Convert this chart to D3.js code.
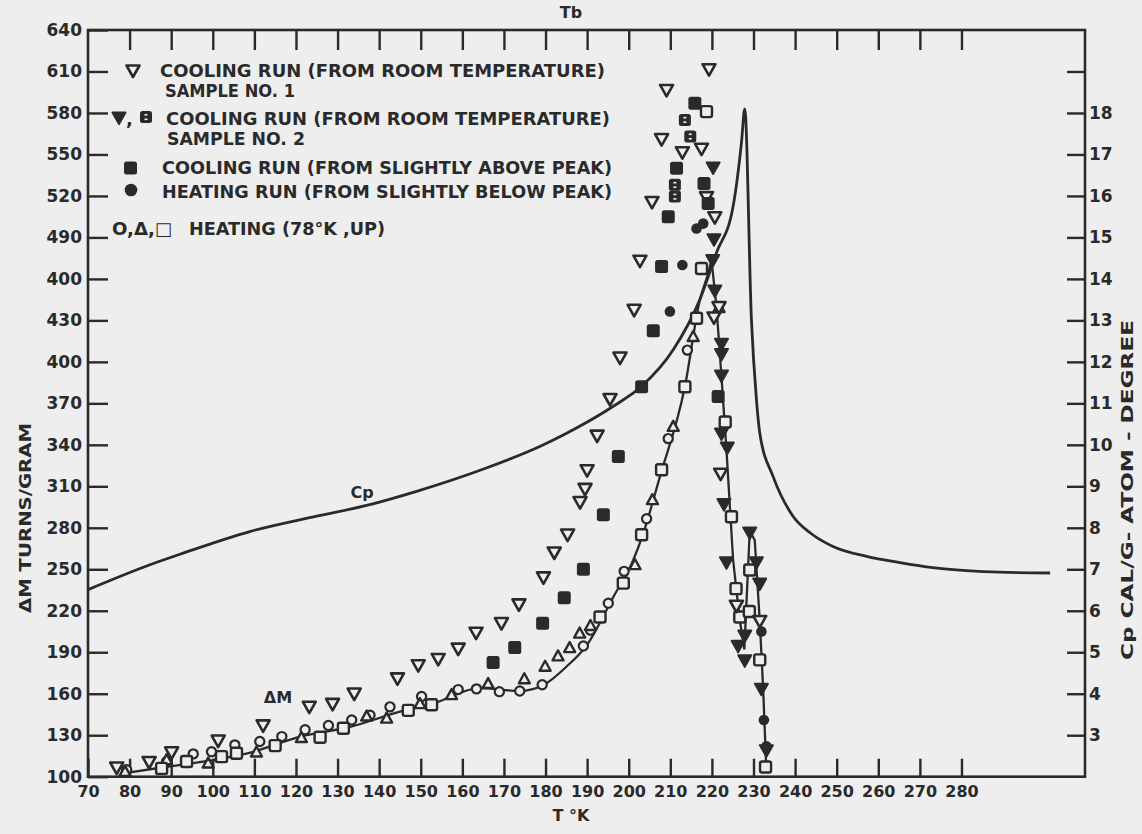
<!DOCTYPE html>
<html><head><meta charset="utf-8">
<script src="https://cdn.jsdelivr.net/npm/d3@7"></script>
<style>
body{margin:0;background:#eeeeee;}
svg{display:block;}
text{font-family:"DejaVu Sans",sans-serif;font-weight:bold;fill:#2a2a2a;}
</style>
</head><body>
<svg id="chart" width="1142" height="834"></svg>
<script>
// ---------- DATA ----------
const xTicks = [70,80,90,100,110,120,130,140,150,160,170,180,190,200,210,220,230,240,250,260,270,280];
const xTickLabels = ["70","80","90","100","110","120","130","140","150","160","170","180","190","200","210","220","230","240","250","260","270","280"];
const topTicks = [80,90,100,110,120,130,140,150,160,170,180,190,200,210,220,230,240,250,260,270,280];
const leftTicks = [100,130,160,190,220,250,280,310,340,370,400,430,460,490,520,550,580,610,640];
const leftTickLabels = ["100","130","160","190","220","250","280","310","340","370","400","430","400","490","520","550","580","610","640"];
const rightTicks = [3,4,5,6,7,8,9,10,11,12,13,14,15,16,17,18,19];
const rightTickLabels = ["3","4","5","6","7","8","9","10","11","12","13","14","15","16","17","18",""];

// Cp curve [T, Cp]
const cpCurve = [[70,6.51],[84.9,7.11],[92.9,7.39],[108.9,7.91],[125,8.28],[136.2,8.52],[149,8.88],[164.6,9.4],[179,9.98],[184.5,10.25],[196.3,10.93],[203.1,11.41],[210.7,12.29],[217.1,13.5],[221.1,14.63],[225.1,15.75],[227.1,17.28],[227.9,18.1],[229.5,13.02],[230.7,11.1],[231.5,10.29],[234.7,9.24],[239.5,8.28],[243.6,7.88],[249.1,7.55],[257.2,7.31],[265.2,7.16],[273.1,7.04],[281.2,6.97],[289.2,6.93],[301.3,6.91]];

// Delta M heating line [T, turns/gram]
const heatLineUp = [[79.3,102.7],[88.9,107.2],[100,112],[109.7,118],[121,129],[133,136],[145,147],[153,153],[164.2,164],[173.8,162],[179.5,166.3],[185,179.5],[189.9,195],[196.3,230],[201.1,256.7],[203.5,276],[207.5,317],[213.5,382],[217.1,444.8],[219.1,464],[219.9,473.7]];
const heatLineDown = [[219.9,473.7],[221.1,439.9],[222.3,389.3],[223.5,336.3],[225.1,256.7],[226.7,213.3],[227.8,192],[229.1,278],[230.3,271],[231.5,213],[232.3,165],[233.1,104]];

// symbols [T, turns/gram]
const coolSample1 = [[76.9,107],[84.7,111],[90.1,118],[101.3,126.5],[112.1,137.5],[123.2,151],[128.8,153],[134,160.5],[144.4,171.5],[149.4,181],[154.2,185.5],[159,193],[163.3,204.5],[169.4,211.5],[173.6,225],[179.5,244.5],[182.1,262.5],[185.3,275.5],[188.3,299],[189.5,308.5],[190,322],[192.4,347],[195.5,373.5],[197.9,403.5],[201.3,438],[202.7,473.5],[205.6,516],[207.9,561.5],[209.1,597],[219.3,612],[212.9,552],[217.5,554.5],[218.7,519.5],[220.7,505],[221.7,440],[220.5,432.5],[222.1,319.5],[225.9,224],[231.5,213]];
const coolSample2Tri = [[220.3,541],[220.5,489],[220.2,474],[220.7,452],[222.3,413.5],[222.3,406],[222.3,390.5],[222.3,348.5],[223.7,338.5],[222.9,297.5],[229.1,277],[223.5,255.5],[230.7,255.5],[231.5,240],[227.9,202.5],[226.3,195],[227.9,184.5],[231.9,164],[233.1,119.5]];
const coolSample2Sq = [[211.1,528],[211.1,519.5],[213.5,575],[214.8,563]];
const coolAbovePeak = [[167.4,182.5],[172.6,193.5],[179.3,211],[184.5,229.5],[189.1,250],[193.9,289.5],[197.5,331.5],[203.1,382],[205.9,422.5],[207.9,469],[209.5,505],[211.5,540],[215.9,587],[218.1,529],[219.1,514.5],[221.5,375]];
const heatBelowPeak = [[209.9,436.5],[212.9,470],[216.3,496.5],[217.9,500],[231.9,205],[232.5,141],[233.1,122]];
const heatCircles = [[79.3,105],[88.9,111],[95.3,116.5],[99.7,118],[105.3,123],[111.3,125.5],[116.6,129],[122.2,134],[127.8,137],[133.4,141],[137.8,144.5],[142.6,150.5],[150.2,158],[159,163],[163.4,163.5],[168.9,161.5],[173.8,162],[179.2,166.5],[189.1,194.5],[190.8,206],[195.1,225.5],[198.9,248.5],[204.3,286.5],[209.5,344.5],[214.1,408.5]];
const heatTriangles = [[78.9,103.5],[88.9,112],[98.9,109.5],[110.5,117.5],[121.3,128],[137,143.5],[141.8,142],[149.8,152.5],[157.4,159],[166.2,167],[174.9,170.5],[179.9,179.5],[183,187],[185.8,193],[188.2,203.5],[190.8,209],[201.5,253],[205.7,300],[210.7,353],[215.5,418],[221.7,439]];
const heatSquares = [[87.7,106],[93.7,111],[102.1,114.5],[105.7,117],[115,122.5],[125.8,128.5],[131.4,135],[147,148],[152.6,152],[193.1,215.5],[198.7,240],[203.1,275],[207.9,322],[213.5,382],[216.3,431.5],[217.5,467.5],[218.7,581],[223.2,356.5],[224.7,288],[225.8,236],[226.7,215.5],[229.1,249.5],[229,219.5],[231.5,184.5],[232.9,107]];

const legendLines = ["COOLING RUN (FROM ROOM TEMPERATURE)","SAMPLE NO. 1","COOLING RUN (FROM ROOM TEMPERATURE)","SAMPLE NO. 2","COOLING RUN (FROM SLIGHTLY ABOVE PEAK)","HEATING RUN (FROM SLIGHTLY BELOW PEAK)","HEATING (78°K ,UP)"];

// ---------- DRAW ----------
const INK = "#2a2a2a", BG = "#eeeeee";
const svg = d3.select("#chart");
svg.append("rect").attr("width",1142).attr("height",834).attr("fill",BG);

const x = d3.scaleLinear().domain([70, 309.7]).range([88, 1085]);
const yL = d3.scaleLinear().domain([100, 640]).range([776.7, 30]);
const yR = d3.scaleLinear().domain([2, 20]).range([776.7, 30]);

function styleAxis(g, fs){
  g.select(".domain").remove();
  g.selectAll(".tick line").attr("stroke",INK).attr("stroke-width",2.4);
  g.selectAll(".tick text").attr("fill",INK).style("font-size",fs+"px")
    .style("font-family","'DejaVu Sans',sans-serif").style("font-weight","bold");
}

svg.append("g").attr("transform",`translate(0,${yL(100)})`)
  .call(d3.axisBottom(x).tickValues(xTicks).tickFormat((d,i)=>xTickLabels[i]).tickSize(-18).tickPadding(9))
  .call(g=>styleAxis(g,16));
svg.append("g").attr("transform",`translate(0,${yL(640)})`)
  .call(d3.axisTop(x).tickValues(topTicks).tickFormat("").tickSize(-20))
  .call(g=>styleAxis(g,16));
svg.append("g").attr("transform",`translate(${x(70)},0)`)
  .call(d3.axisLeft(yL).tickValues(leftTicks).tickFormat((d,i)=>leftTickLabels[i]).tickSize(-20).tickPadding(6))
  .call(g=>styleAxis(g,17));
svg.append("g").attr("transform",`translate(${x.range()[1]},0)`)
  .call(d3.axisRight(yR).tickValues(rightTicks).tickFormat((d,i)=>rightTickLabels[i]).tickSize(-18).tickPadding(4))
  .call(g=>styleAxis(g,17));

// frame
svg.append("rect").attr("x",x(70)).attr("y",yL(640))
  .attr("width",x.range()[1]-x(70)).attr("height",yL(100)-yL(640))
  .attr("fill","none").attr("stroke",INK).attr("stroke-width",2.6);

// Cp curve
svg.append("path").datum(cpCurve)
  .attr("d",d3.line().x(d=>x(d[0])).y(d=>yR(d[1])).curve(d3.curveMonotoneX))
  .attr("fill","none").attr("stroke",INK).attr("stroke-width",2.8);

// delta M lines
svg.append("path").datum(heatLineUp)
  .attr("d",d3.line().x(d=>x(d[0])).y(d=>yL(d[1])).curve(d3.curveMonotoneX))
  .attr("fill","none").attr("stroke",INK).attr("stroke-width",2.3);
svg.append("path").datum(heatLineDown)
  .attr("d",d3.line().x(d=>x(d[0])).y(d=>yL(d[1])).curve(d3.curveLinear))
  .attr("fill","none").attr("stroke",INK).attr("stroke-width",2.3);

// symbol shapes
const triDown = "M-6.5,-4.5L6.5,-4.5L0,7Z";
const triUp = "M-5.5,4L5.5,4L0,-6Z";
function drawSym(data, kind){
  const g = svg.append("g");
  const sel = g.selectAll("g").data(data).join("g")
    .attr("transform",d=>`translate(${x(d[0])},${yL(d[1])})`);
  if(kind==="triDownOpen") sel.append("path").attr("d",triDown).attr("fill",BG).attr("stroke",INK).attr("stroke-width",2.6).attr("stroke-linejoin","round");
  if(kind==="triDownFill") sel.append("path").attr("d",triDown).attr("fill",INK).attr("stroke",INK).attr("stroke-width",2).attr("stroke-linejoin","round");
  if(kind==="triUpOpen") sel.append("path").attr("d",triUp).attr("fill",BG).attr("stroke",INK).attr("stroke-width",2.4).attr("stroke-linejoin","round");
  if(kind==="sqFill") sel.append("rect").attr("x",-6.5).attr("y",-6.5).attr("width",13).attr("height",13).attr("rx",2.5).attr("fill",INK);
  if(kind==="sqDotted"){
    sel.append("rect").attr("x",-6).attr("y",-6).attr("width",12).attr("height",12).attr("rx",2.5).attr("fill",INK);
    sel.append("rect").attr("x",-1.5).attr("y",-3).attr("width",3).attr("height",1.6).attr("fill",BG);
    sel.append("rect").attr("x",-1.5).attr("y",1.5).attr("width",3).attr("height",1.6).attr("fill",BG);
  }
  if(kind==="sqOpen") sel.append("rect").attr("x",-5.5).attr("y",-5.5).attr("width",11).attr("height",11).attr("rx",2).attr("fill",BG).attr("stroke",INK).attr("stroke-width",2.4);
  if(kind==="circOpen") sel.append("circle").attr("r",4.6).attr("fill",BG).attr("stroke",INK).attr("stroke-width",2.2);
  if(kind==="circFill") sel.append("circle").attr("r",5.3).attr("fill",INK);
}
drawSym(heatCircles,"circOpen");
drawSym(heatTriangles,"triUpOpen");
drawSym(heatSquares,"sqOpen");
drawSym(coolSample1,"triDownOpen");
drawSym(coolAbovePeak,"sqFill");
drawSym(coolSample2Sq,"sqDotted");
drawSym(coolSample2Tri,"triDownFill");
drawSym(heatBelowPeak,"circFill");

// ---------- LEGEND ----------
const lg = svg.append("g");
const legendRows = [
  {y:71, x:160, len:445},
  {y:91, x:165, len:130},
  {y:119, x:166, len:444},
  {y:139, x:167, len:138},
  {y:168, x:162, len:450},
  {y:192, x:162, len:450},
  {y:229, x:189, len:196}
];
legendRows.forEach((r,i)=>{
  lg.append("text").attr("x",r.x).attr("y",r.y).attr("dy","0.36em")
    .attr("textLength",r.len).attr("lengthAdjust","spacingAndGlyphs")
    .style("font-size","18px").text(legendLines[i]);
});
// legend symbols
lg.append("path").attr("transform","translate(133,70)").attr("d",triDown).attr("fill",BG).attr("stroke",INK).attr("stroke-width",2.6).attr("stroke-linejoin","round");
lg.append("path").attr("transform","translate(119,117)").attr("d",triDown).attr("fill",INK).attr("stroke",INK).attr("stroke-width",2).attr("stroke-linejoin","round");
lg.append("text").attr("x",126).attr("y",119).attr("dy","0.36em").style("font-size","18px").text(",");
lg.append("rect").attr("x",140).attr("y",111).attr("width",12).attr("height",12).attr("rx",2.5).attr("fill",INK);
lg.append("rect").attr("x",144.5).attr("y",114).attr("width",3).attr("height",1.6).attr("fill",BG);
lg.append("rect").attr("x",144.5).attr("y",118.5).attr("width",3).attr("height",1.6).attr("fill",BG);
lg.append("rect").attr("x",124).attr("y",161.5).attr("width",13).attr("height",13).attr("rx",2.5).attr("fill",INK);
lg.append("circle").attr("cx",131).attr("cy",190).attr("r",6.3).attr("fill",INK);
lg.append("text").attr("x",112).attr("y",229).attr("dy","0.36em").attr("textLength",60).attr("lengthAdjust","spacingAndGlyphs").style("font-size","18px").text("O,Δ,□");

// ---------- LABELS ----------
svg.append("text").attr("x",278).attr("y",697).attr("dy","0.36em").attr("text-anchor","middle").style("font-size","16px").text("ΔM");
svg.append("text").attr("x",362).attr("y",492).attr("dy","0.36em").attr("text-anchor","middle").style("font-size","16px").text("Cp");
svg.append("text").attr("x",571).attr("y",815).attr("dy","0.36em").attr("text-anchor","middle").style("font-size","16px").text("T °K");
svg.append("text").attr("x",571).attr("y",12).attr("dy","0.36em").attr("text-anchor","middle").style("font-size","16px").text("Tb");
svg.append("text").attr("transform","translate(25,518) rotate(-90)").attr("dy","0.36em").attr("text-anchor","middle")
  .attr("textLength",190).attr("lengthAdjust","spacingAndGlyphs").style("font-size","16px").text("ΔM TURNS/GRAM");
svg.append("text").attr("transform","translate(1127,490) rotate(-90)").attr("dy","0.36em").attr("text-anchor","middle")
  .attr("textLength",340).attr("lengthAdjust","spacingAndGlyphs").style("font-size","16px").text("Cp CAL/G- ATOM - DEGREE");
</script>
</body></html>
